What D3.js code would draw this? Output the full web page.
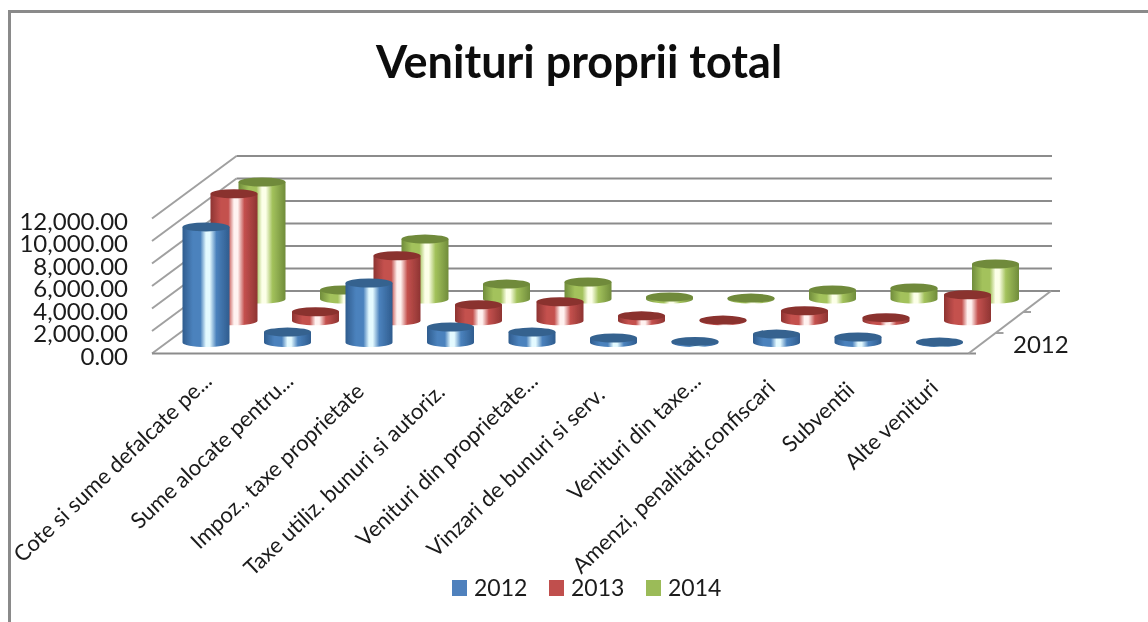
<!DOCTYPE html>
<html><head><meta charset="utf-8">
<script src="https://cdn.jsdelivr.net/npm/d3@7"></script>
<style>html,body{margin:0;padding:0;background:#fff}svg{display:block;font-family:Lato,"Open Sans",sans-serif;color:#1a1a1a}</style>
</head><body><div id="chart"></div>
<script>
const categories = ["Cote si sume defalcate pe...","Sume alocate  pentru...","Impoz., taxe proprietate","Taxe utiliz. bunuri si autoriz.","Venituri din proprietate...","Vinzari de bunuri si serv.","Venituri din  taxe...","Amenzi, penalitati,confiscari","Subventii","Alte venituri"];
const seriesNames = ["2012","2013","2014"];
const values2012 = [10270,930,5290,1380,930,400,100,750,490,40];
const values2013 = [11290,800,5780,1420,1690,440,60,890,270,2310];
const values2014 = [10400,800,5330,1330,1510,180,80,800,980,3110];
const yTicks = [0,2000,4000,6000,8000,10000,12000];
const colors = {
  "2012":{swatch:"#4F81BD",top:"#35628F",edge:"#2F5C8E",mid:"#4B82BD",hi:"#E4FAFF"},
  "2013":{swatch:"#C0504D",top:"#8A302E",edge:"#8E3432",mid:"#C4514E",hi:"#FFF2F0"},
  "2014":{swatch:"#9BBB59",top:"#6F8A3A",edge:"#708C3B",mid:"#A3C25C",hi:"#FCFFE8"}
};
const labelInset = [0,0,15,16,0,20,0,10,13,10];

const W=1148,H=622;
const svg=d3.select("#chart").append("svg").attr("width",W).attr("height",H).attr("viewBox",[0,0,W,H]);
const defs=svg.append("defs");
defs.append("filter").attr("id","soft").append("feGaussianBlur").attr("stdDeviation",0.45);
seriesNames.forEach(s=>{
  const c=colors[s];
  const g=defs.append("linearGradient").attr("id","g"+s).attr("x1",0).attr("x2",1).attr("y1",0).attr("y2",0);
  [[0,c.edge],[.22,c.mid],[.38,c.mid],[.5,c.hi],[.58,c.hi],[.72,c.mid],[1,c.edge]].forEach(([o,col])=>g.append("stop").attr("offset",o).attr("stop-color",col));
});
const root=svg.append("g").attr("filter","url(#soft)");

// frame
const gridCol="#8c8c8c";
root.append("path").attr("d",`M9.5,${H} V11.5 H${W}`).attr("fill","none").attr("stroke","#8a8a8a").attr("stroke-width",3);

// title
root.append("text").attr("x",579).attr("y",78).attr("text-anchor","middle").attr("font-size",45).attr("font-weight",700).attr("fill","#0d0d0d").text("Venituri proprii total");

// scales
const y=d3.scaleLinear().domain([0,12000]).range([0,-135]);
const depth=d3.scalePoint().domain(seriesNames).range([0,1]);
const depthX=d3.scaleLinear().domain([0,1]).range([0,56]);
const depthY=d3.scaleLinear().domain([0,1]).range([0,-43.5]);
const xCat=d3.scaleLinear().domain([0,9]).range([206,939.5]);
const baseY=342.5;
const frontY=v=>353.5+y(v);

// walls
const wall=root.append("g").attr("fill","none").attr("stroke",gridCol).attr("stroke-width",2);
yTicks.forEach(t=>{
  const fy=frontY(t), by=fy-62.5;
  wall.append("path").attr("d",`M152,${fy} L236.5,${by}`).attr("stroke","#a0a0a0");
  wall.append("path").attr("d",`M236.5,${by} H${t===0?1060:1052}`);
});
// floor
wall.append("path").attr("d",`M152,353.5 H976`);
wall.append("path").attr("d",`M968.5,353.5 L1051,291`).attr("stroke","#a0a0a0");
[[1023,312],[995.5,333]].forEach(([px,py])=>wall.append("path").attr("d",`M${px},${py} h8`).attr("stroke","#a0a0a0"));

// y axis
const axisG=root.append("g").attr("transform","translate(128,356.5)")
  .call(d3.axisLeft(y).tickValues(yTicks).tickFormat(d3.format(",.2f")).tickSize(0).tickPadding(0));
axisG.select(".domain").remove();
axisG.selectAll("text").attr("font-size",24).attr("font-family","Lato").attr("fill","#1a1a1a");

// cylinders
const rx=23.5, ry=4.5;
const table=[values2012,values2013,values2014];
[2,1,0].forEach(si=>{
  const s=seriesNames[si];
  const dx=depthX(depth(s)), dy=depthY(depth(s));
  const g=root.append("g");
  const data=table[si].map((v,i)=>({v,i}));
  const gs=g.selectAll("g").data(data).join("g")
    .attr("transform",d=>`translate(${xCat(d.i)+dx},${baseY+dy})`);
  gs.append("path").attr("fill",`url(#g${s})`)
    .attr("d",d=>`M${-rx},0 L${-rx},${y(d.v)} L${rx},${y(d.v)} L${rx},0 A${rx},${ry} 0 0 1 ${-rx},0 Z`);
  gs.append("ellipse").attr("cy",d=>y(d.v)).attr("rx",rx).attr("ry",ry).attr("fill",colors[s].top);
});

// category labels
const labelG=root.append("g");
labelG.selectAll("text").data(categories).join("text")
  .attr("transform",(d,i)=>`translate(${xCat(i)+2},377) rotate(-43.5) translate(${-labelInset[i]},0)`)
  .attr("text-anchor","end").attr("dy","0.35em")
  .attr("font-size",22).attr("fill","#1a1a1a").text(d=>d);

// depth label
root.append("text").attr("x",1013).attr("y",353).attr("font-size",24).attr("fill","#1a1a1a").text(seriesNames[0]);

// legend
const leg=root.append("g");
const legX=d3.scalePoint().domain(seriesNames).range([452,646]);
const lg=leg.selectAll("g").data(seriesNames).join("g").attr("transform",d=>`translate(${legX(d)},580)`);
lg.append("rect").attr("width",15).attr("height",16).attr("fill",d=>colors[d].swatch);
lg.append("text").attr("x",22).attr("y",16).attr("font-size",23).attr("fill","#1a1a1a").text(d=>d);
</script></body></html>
